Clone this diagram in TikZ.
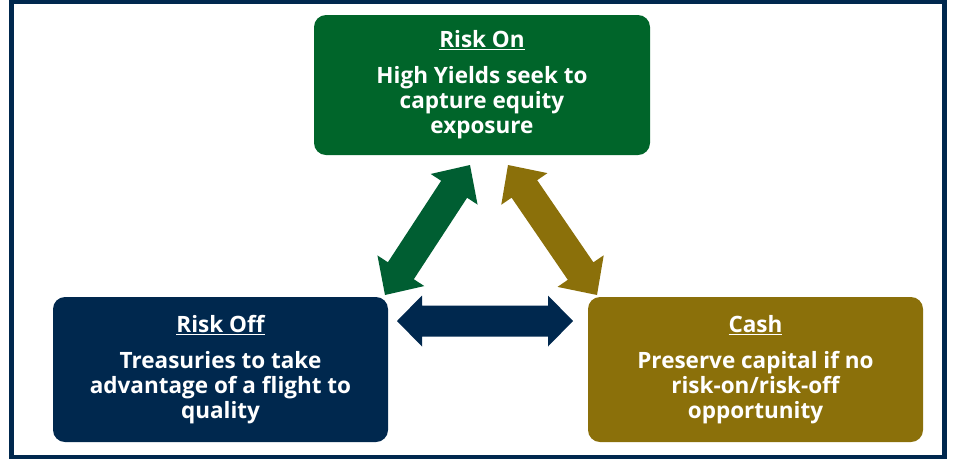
\documentclass[tikz,border=0pt]{standalone}
\usepackage{fontspec}
\setmainfont{Open Sans}
\usetikzlibrary{calc}
\definecolor{navyc}{HTML}{00284E}
\definecolor{greenbox}{HTML}{00652A}
\definecolor{greenarr}{HTML}{005E32}
\definecolor{goldc}{HTML}{8B700A}
\newcommand\dblarr[6]{% #1 a, #2 b, #3 colour, #4 head length, #5 head half width, #6 shaft half width
  \fill[#3] (#1)
   -- ($(#1)!#4!(#2)!#5!90:(#2)$) -- ($(#1)!#4!(#2)!#6!90:(#2)$)
   -- ($(#2)!#4!(#1)!#6!-90:(#1)$) -- ($(#2)!#4!(#1)!#5!-90:(#1)$)
   -- (#2)
   -- ($(#2)!#4!(#1)!#5!90:(#1)$) -- ($(#2)!#4!(#1)!#6!90:(#1)$)
   -- ($(#1)!#4!(#2)!#6!-90:(#2)$) -- ($(#1)!#4!(#2)!#5!-90:(#2)$)
   -- cycle;}
\begin{document}
\begin{tikzpicture}[x=1pt,y=-1pt,
  box/.style={rounded corners=12pt, text=white, inner sep=0pt, align=center,
    font=\bfseries\fontsize{22.5}{25}\selectfont, minimum width=336pt, minimum height=142pt}]
\useasboundingbox (0,0) rectangle (954,459);
\draw[navyc, line width=4.5pt] (11.5,1.5) rectangle (944.5,457);
\node[box, fill=greenbox, minimum height=140pt] (on) at (482,85)
  {\underline{Risk On}\\[11pt]High Yields seek to\\capture equity\\exposure};
\node[box, fill=navyc, minimum width=335pt, minimum height=145pt] (off) at (220.5,369.5)
  {\underline{Risk Off}\\[11pt]Treasuries to take\\advantage of a flight to\\quality};
\node[box, fill=goldc, minimum width=335pt, minimum height=145pt] (cash) at (755.5,369.5)
  {\underline{Cash}\\[11pt]Preserve capital if no\\risk-on/risk-off\\opportunity};
\coordinate (g1) at (385,295);
\coordinate (g2) at (470,165);
\coordinate (y1) at (508,165);
\coordinate (y2) at (597,295);
\coordinate (n1) at (397,321);
\coordinate (n2) at (573,321);
\dblarr{g1}{g2}{greenarr}{29pt}{28pt}{15.5pt}
\dblarr{y1}{y2}{goldc}{29pt}{28pt}{15.5pt}
\dblarr{n1}{n2}{navyc}{25pt}{25.5pt}{15.5pt}
\end{tikzpicture}
\end{document}
